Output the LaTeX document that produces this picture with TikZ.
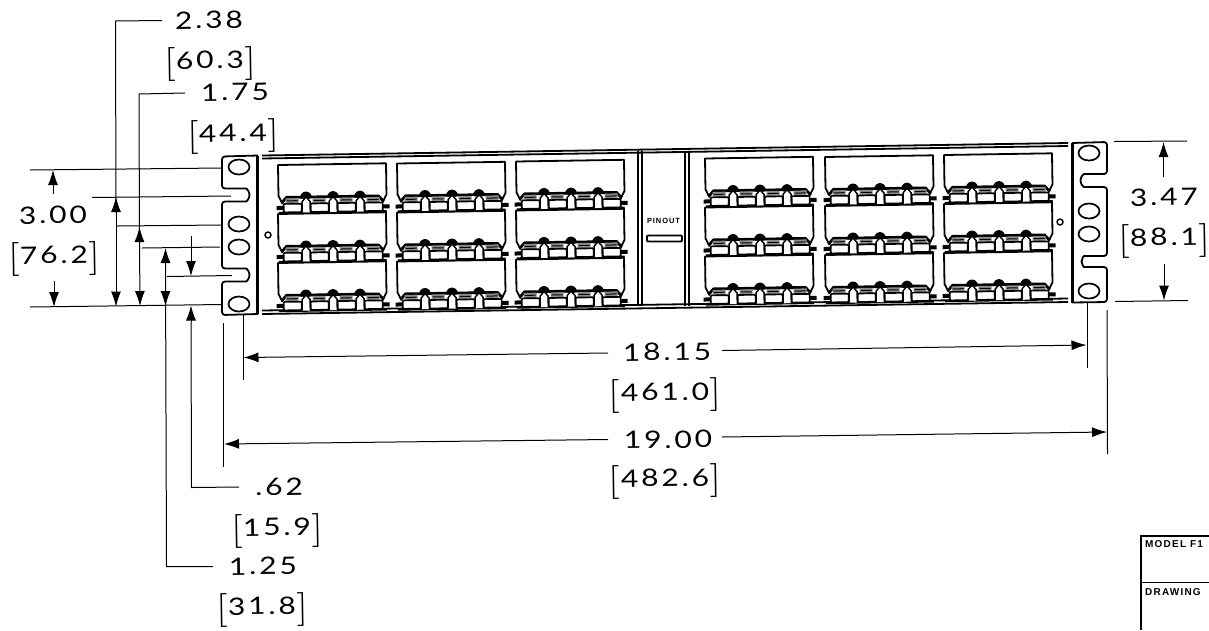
\documentclass[tikz,border=0pt]{standalone}
\usepackage{fontspec}
\usepackage{tikz}
\usetikzlibrary{arrows.meta}
\usetikzlibrary{positioning}
\usetikzlibrary{shapes.geometric}
\newfontfamily\dimfont[LetterSpace=12, FakeStretch=1.25]{Lato}
\newfontfamily\brfont{Lato Light}
\newfontfamily\platefont[LetterSpace=12]{Liberation Sans Bold}
\definecolor{jackgray}{rgb}{0.55,0.55,0.55}

% millimetre value between tall brackets
\newcommand{\mmval}[1]{\raisebox{-7pt}[0pt][0pt]{\brfont\fontsize{38}{38}\selectfont[}#1\raisebox{-7pt}[0pt][0pt]{\brfont\fontsize{38}{38}\selectfont]}}

% one block of four jacks, origin at its top left corner
\newcommand{\jackblock}[2]{
	\begin{scope}[shift={(#1,#2)}, rotate=0.9]
		\draw[heavy, line join=round] (4,39) -- (0,31) -- (0,0) -- (108,0) -- (108,31) -- (104,39);
		\draw[line width=2.8pt, line join=round] (3,38) -- (8,32.5) -- (100,32.5) -- (105,38);
		\draw[line width=2.4pt] (0,48) -- (108,48);
		\fill (-2,41) rectangle (6,45);
		\fill (103,41) rectangle (111,45);
		\foreach \px in {5,32,59,86} {
			\fill[jackgray] (\px+2,33.5) rectangle (\px+15,39);
			\draw[line width=1pt] (\px+3,36) -- (\px+14,36);
			\draw[jack] (\px,39) rectangle (\px+18,47.5);
		}
		\foreach \px in {27.5,54.5,81.5} {
			\fill[rounded corners=3pt] (\px-7,34) -- (\px-3.5,27) -- (\px+3.5,27) -- (\px+7,34) -- cycle;
			\draw[post] (\px-4,48) -- (\px-4,37) -- (\px,32.5) -- (\px+4,37) -- (\px+4,48);
		}
	\end{scope}
}

\begin{document}
\begin{tikzpicture}[x=1pt, y=-1pt,
	dimline/.style={line width=1pt},
	dimarrow/.style={line width=1pt, -{Latex[length=15pt, width=10pt]}},
	dimtext/.style={font=\dimfont\fontsize{24}{24}\selectfont, inner sep=0pt, outer sep=0pt, rotate=0.9},
	heavy/.style={line width=1.8pt},
	jack/.style={line width=1.7pt, fill=white, rounded corners=1pt},
	post/.style={line width=1.4pt, fill=white},
	hole/.style={draw, ellipse, line width=1.7pt, minimum width=21pt, minimum height=15pt, inner sep=0pt},
	pinhole/.style={draw, circle, line width=1.4pt, minimum size=6pt, inner sep=0pt}]
	\useasboundingbox (0,0) rectangle (1209,630);

	% left ear
	\draw[heavy, rounded corners=3pt] (258,155.5) -- (222,156.5) -- (222,188.5) -- (243,188.5) arc (-90:90:6.5) -- (222,201.5) -- (222,268.5) -- (243,268.5) arc (-90:90:6.5) -- (222,281.5) -- (222,315) -- (258,314);
	\draw[line width=3pt] (257,155.5) -- (257,314);
	\node[hole](lefthole0) at (239,167) {};
	\node[hole](lefthole1) at (239,224) {};
	\node[hole](lefthole2) at (239,247) {};
	\node[hole](lefthole3) at (239,304) {};
	\node[pinhole](leftpin) at (268,235) {};

	% right ear
	\draw[heavy, rounded corners=3pt] (1072,143) -- (1107,142) -- (1107,174) -- (1087,174) arc (-90:-270:6.5) -- (1107,187) -- (1107,256) -- (1087,256) arc (-90:-270:5.5) -- (1107,267) -- (1107,302) -- (1072,302.5);
	\draw[line width=3pt] (1072,143) -- (1072,302.5);
	\node[hole](righthole0) at (1089,153) {};
	\node[hole](righthole1) at (1089,211) {};
	\node[hole](righthole2) at (1089,234) {};
	\node[hole](righthole3) at (1089,291) {};
	\node[pinhole](rightpin) at (1060,222) {};

	% panel rails and pinout strip
	\draw[heavy] (262,155.5) -- (1068,143);
	\draw[heavy] (262,158.5) -- (1068,146);
	\draw[heavy] (262,314) -- (1068,302);
	\draw[heavy] (262,310.5) -- (1068,298.5);
	\draw[heavy] (638,151) -- (638,306);
	\draw[heavy] (642,151) -- (642,306);
	\draw[heavy] (685,151) -- (685,306);
	\draw[heavy] (689,151) -- (689,306);
	\node[font=\platefont\fontsize{7.5}{7.5}\selectfont, inner sep=0pt](pinout) at (663.5,221) {PINOUT};
	\draw[heavy, rounded corners=1pt] (647,235.5) rectangle (682,241.5);

	% jack blocks
	\foreach \col/\bx/\by in {0/278/165, 1/397/163.5, 2/516/161.5, 3/705/158.5, 4/825/157, 5/944/155} {
		\foreach \row in {0,1,2} {
			\jackblock{\bx}{\by+\row*49}
		}
	}

	% dimension texts
	\node[dimtext](lab238) at (209,20) {2.38};
	\node[dimtext](mm238) at (210,60) {\mmval{60.3}};
	\node[dimtext](lab175) at (235,92) {1.75};
	\node[dimtext](mm175) at (233,133) {\mmval{44.4}};
	\node[dimtext](lab300) at (53,215) {3.00};
	\node[dimtext](mm300) at (54,255) {\mmval{76.2}};
	\node[dimtext](lab347) at (1164,197) {3.47};
	\node[dimtext](mm347) at (1164,237) {\mmval{88.1}};
	\node[dimtext](lab1815) at (667,352) {18.15};
	\node[dimtext](mm1815) at (665,392) {\mmval{461.0}};
	\node[dimtext](lab1900) at (668,439.5) {19.00};
	\node[dimtext](mm1900) at (665,478) {\mmval{482.6}};
	\node[dimtext](lab062) at (279,487) {.62};
	\node[dimtext](mm062) at (277,527) {\mmval{15.9}};
	\node[dimtext](lab125) at (263,566) {1.25};
	\node[dimtext](mm125) at (262,606) {\mmval{31.8}};

	% extension lines on the left
	\draw[dimline] (30,170) -- (222,168);
	\draw[dimline] (92,197.5) -- (231,196);
	\draw[dimline] (117,226) -- (222,225);
	\draw[dimline] (142,248) -- (220,247);
	\draw[dimline] (167,276.5) -- (232,275.5);
	\draw[dimline] (30,307) -- (222,304.5);

	% vertical dimensions
	\draw[dimarrow] (53,194) -- (53,170);
	\draw[dimarrow] (54,281) -- (54,307);
	\draw[dimline] (162,20.5) -- (115.5,21) -- (116,213);
	\draw[dimarrow] (116,213) -- (116,197);
	\draw[dimarrow] (116,213) -- (116,306.5);
	\draw[dimline] (185,93) -- (139,94) -- (139.5,243);
	\draw[dimarrow] (139.5,243) -- (139.5,227);
	\draw[dimarrow] (139.5,243) -- (140,306);
	\draw[dimline] (213,566.5) -- (166.5,566.5) -- (165.5,264);
	\draw[dimarrow] (165.5,264) -- (165.5,248);
	\draw[dimarrow] (165.5,264) -- (165.5,306);
	\draw[dimarrow] (191,236) -- (191,276);
	\draw[dimline] (239,487) -- (191.5,487.5) -- (191,322);
	\draw[dimarrow] (191,322) -- (191,305.5);
	\draw[dimarrow] (1163.5,177) -- (1163.5,142);
	\draw[dimarrow] (1164,264) -- (1164,300.5);

	% extension lines on the right
	\draw[dimline] (1114,141.5) -- (1187,141);
	\draw[dimline] (1115,301.5) -- (1188,300.5);

	% horizontal dimensions
	\draw[dimline] (243,315) -- (243,380);
	\draw[dimline] (1087,302) -- (1087,368);
	\draw[dimarrow] (608,353) -- (243.5,357.5);
	\draw[dimarrow] (722,350.5) -- (1086.5,345);
	\draw[dimline] (223.5,323) -- (223.5,467);
	\draw[dimline] (1107,310) -- (1107.5,454);
	\draw[dimarrow] (608,439.5) -- (224,444);
	\draw[dimarrow] (722,437) -- (1107,432);

	% title block
	\draw[line width=1.2pt] (1209,536) -- (1141,536) -- (1141,630);
	\draw[line width=1pt] (1141,582) -- (1209,582);
	\node[anchor=west, font=\platefont\fontsize{10}{10}\selectfont, inner sep=0pt](plate0) at (1145,544) {MODEL F1};
	\node[anchor=west, font=\platefont\fontsize{10}{10}\selectfont, inner sep=0pt](plate1) at (1145,592) {DRAWING};
\end{tikzpicture}
\end{document}
